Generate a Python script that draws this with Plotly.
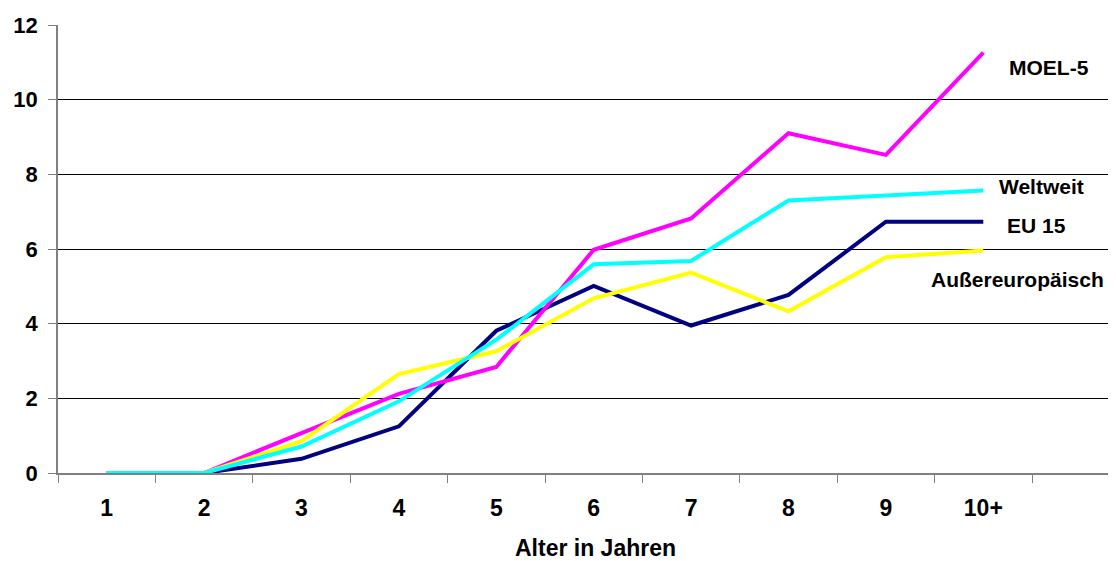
import plotly.graph_objects as go

ages = ["1", "2", "3", "4", "5", "6", "7", "8", "9", "10+"]
eu15 = [0, 0, 0.38, 1.25, 3.81, 5.01, 3.95, 4.77, 6.73, 6.73]
moel5 = [0, 0, 1.07, 2.12, 2.84, 5.98, 6.82, 9.10, 8.52, 11.26]
aussereuropaeisch = [0, 0, 0.85, 2.65, 3.26, 4.68, 5.37, 4.33, 5.78, 5.96]
weltweit = [0, 0, 0.71, 1.92, 3.57, 5.59, 5.68, 7.30, 7.43, 7.57]

series = [
    ("EU 15", eu15, "#000080"),
    ("MOEL-5", moel5, "#FF00FF"),
    ("Außereuropäisch", aussereuropaeisch, "#FFFF00"),
    ("Weltweit", weltweit, "#00FFFF"),
]

FONT = "Liberation Sans, Arial, sans-serif"

# page has an 8px body margin; figure starts at page (8, 8)
W, H = 1100, 553
ML, MT = 50, 17
MB = H + 8 - 473.3          # x axis at page y 473.3
plot_h = H - MT - MB
plot_w = W - ML
# category slot width 97.4 px, first slot starts at the y axis
x_max = plot_w / 97.4 - 0.5


def px_to_paper_x(px):
    return (px - 8 - ML) / plot_w


def py_to_paper_y(py):
    return (8 + MT + plot_h - py) / plot_h


fig = go.Figure()
for name, vals, color in series:
    fig.add_trace(go.Scatter(x=ages, y=vals, mode="lines", name=name,
                             line=dict(color=color, width=4)))

# series labels at the right (page pixel centres)
labels = [
    ("MOEL-5", 1049, 68),
    ("Weltweit", 1041, 187),
    ("EU 15", 1036, 226),
    ("Außereuropäisch", 1017, 280),
]
for text, px, py in labels:
    fig.add_annotation(x=px_to_paper_x(px), y=py_to_paper_y(py), xref="paper", yref="paper",
                       text=text, showarrow=False, xanchor="center", yanchor="middle",
                       font=dict(family=FONT, size=21, color="black", weight="bold"))

fig.add_annotation(x=px_to_paper_x(595), y=py_to_paper_y(548),
                   xref="paper", yref="paper", text="Alter in Jahren",
                   showarrow=False, xanchor="center", yanchor="middle",
                   font=dict(family=FONT, size=23, color="black", weight="bold"))

fig.update_layout(
    width=W, height=H,
    margin=dict(l=ML, r=0, t=MT, b=MB),
    paper_bgcolor="white", plot_bgcolor="white",
    showlegend=False,
    font=dict(family=FONT, color="black"),
)
fig.update_xaxes(
    type="category", range=[-0.5, x_max],
    showgrid=False, zeroline=False,
    showline=True, linecolor="#808080", linewidth=1.5,
    ticks="outside", tickson="boundaries", ticklen=8, tickcolor="#808080", tickwidth=1,
    tickfont=dict(family=FONT, size=23, color="black", weight="bold"),
    ticklabelstandoff=14,
)
fig.update_yaxes(
    range=[0, 12], dtick=2, tick0=0,
    showgrid=True, gridcolor="black", gridwidth=1.2,
    zeroline=False,
    showline=True, linecolor="#808080", linewidth=1.5,
    ticks="outside", ticklen=8, tickcolor="#808080", tickwidth=1,
    tickfont=dict(family=FONT, size=22, color="black", weight="bold"),
    ticklabelstandoff=6,
)

fig.write_html("out.html")
